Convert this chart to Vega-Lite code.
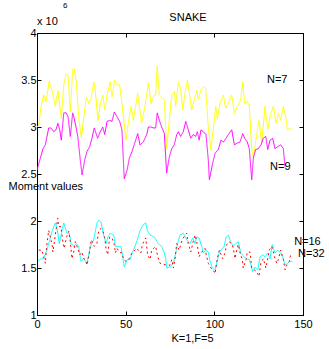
{
  "$schema": "https://vega.github.io/schema/vega-lite/v6.json",
  "width": 266,
  "height": 282,
  "autosize": "none",
  "padding": {"left": 37, "top": 33, "right": 26, "bottom": 34},
  "background": "white",
  "config": {
    "font": "Liberation Sans",
    "view": {"stroke": "black", "strokeWidth": 1},
    "axis": {"grid": false, "domainColor": "black", "tickColor": "black", "labelColor": "black", "titleColor": "black", "labelFont": "Liberation Sans", "titleFont": "Liberation Sans", "labelFontSize": 11, "titleFontSize": 11, "titleFontWeight": "normal"}
  },
  "datasets": {
    "lines": [
      {"s":"N=7","k":0,"v":3.0},{"s":"N=7","k":1.0,"v":3.02},{"s":"N=7","k":2.3,"v":3.22},{"s":"N=7","k":3.8,"v":3.34},{"s":"N=7","k":5.1,"v":3.27},{"s":"N=7","k":6.9,"v":3.49},{"s":"N=7","k":8.5,"v":3.39},{"s":"N=7","k":10.3,"v":3.22},{"s":"N=7","k":11.8,"v":3.39},{"s":"N=7","k":13.7,"v":3.09},{"s":"N=7","k":15.1,"v":3.45},{"s":"N=7","k":16.5,"v":3.57},{"s":"N=7","k":17.5,"v":3.55},{"s":"N=7","k":18.8,"v":3.16},{"s":"N=7","k":20.1,"v":3.61},{"s":"N=7","k":21.0,"v":3.62},{"s":"N=7","k":22.2,"v":3.47},{"s":"N=7","k":23.5,"v":3.11},{"s":"N=7","k":25.0,"v":2.88},{"s":"N=7","k":26.3,"v":3.09},{"s":"N=7","k":27.8,"v":3.32},{"s":"N=7","k":29.2,"v":3.25},{"s":"N=7","k":30.5,"v":3.31},{"s":"N=7","k":32.0,"v":3.48},{"s":"N=7","k":32.9,"v":3.38},{"s":"N=7","k":34.4,"v":3.07},{"s":"N=7","k":35.7,"v":3.25},{"s":"N=7","k":37.1,"v":3.34},{"s":"N=7","k":38.2,"v":3.18},{"s":"N=7","k":39.5,"v":3.34},{"s":"N=7","k":41.3,"v":3.48},{"s":"N=7","k":42.3,"v":3.32},{"s":"N=7","k":43.8,"v":3.5},{"s":"N=7","k":45.1,"v":3.45},{"s":"N=7","k":46.6,"v":3.45},{"s":"N=7","k":48.5,"v":3.15},{"s":"N=7","k":50.2,"v":2.86},{"s":"N=7","k":51.5,"v":3.04},{"s":"N=7","k":53.0,"v":3.22},{"s":"N=7","k":54.3,"v":3.07},{"s":"N=7","k":56.8,"v":3.36},{"s":"N=7","k":59.0,"v":3.04},{"s":"N=7","k":60.9,"v":3.22},{"s":"N=7","k":62.8,"v":3.47},{"s":"N=7","k":64.3,"v":3.25},{"s":"N=7","k":66.0,"v":3.34},{"s":"N=7","k":66.9,"v":3.34},{"s":"N=7","k":67.8,"v":3.65},{"s":"N=7","k":69.0,"v":3.34},{"s":"N=7","k":70.3,"v":3.32},{"s":"N=7","k":71.8,"v":3.29},{"s":"N=7","k":73.1,"v":2.77},{"s":"N=7","k":74.6,"v":3.07},{"s":"N=7","k":76.0,"v":3.34},{"s":"N=7","k":77.4,"v":3.38},{"s":"N=7","k":78.2,"v":3.22},{"s":"N=7","k":79.7,"v":3.48},{"s":"N=7","k":81.0,"v":3.41},{"s":"N=7","k":82.2,"v":3.18},{"s":"N=7","k":83.5,"v":3.36},{"s":"N=7","k":84.8,"v":3.5},{"s":"N=7","k":86.3,"v":3.31},{"s":"N=7","k":87.2,"v":3.18},{"s":"N=7","k":88.7,"v":3.29},{"s":"N=7","k":90.1,"v":3.39},{"s":"N=7","k":91.0,"v":3.29},{"s":"N=7","k":92.3,"v":3.39},{"s":"N=7","k":93.8,"v":3.43},{"s":"N=7","k":95.1,"v":3.41},{"s":"N=7","k":96.6,"v":3.0},{"s":"N=7","k":98.0,"v":2.76},{"s":"N=7","k":99.4,"v":2.97},{"s":"N=7","k":100.8,"v":3.22},{"s":"N=7","k":101.7,"v":3.09},{"s":"N=7","k":103.2,"v":3.25},{"s":"N=7","k":105.1,"v":3.34},{"s":"N=7","k":106.4,"v":3.2},{"s":"N=7","k":107.9,"v":3.25},{"s":"N=7","k":109.8,"v":3.34},{"s":"N=7","k":111.3,"v":3.15},{"s":"N=7","k":113.0,"v":3.22},{"s":"N=7","k":114.9,"v":3.29},{"s":"N=7","k":116.0,"v":3.48},{"s":"N=7","k":117.1,"v":3.25},{"s":"N=7","k":118.6,"v":3.27},{"s":"N=7","k":119.7,"v":3.23},{"s":"N=7","k":121.1,"v":2.76},{"s":"N=7","k":122.0,"v":2.67},{"s":"N=7","k":123.9,"v":2.92},{"s":"N=7","k":125.2,"v":3.07},{"s":"N=7","k":126.7,"v":2.83},{"s":"N=7","k":128.6,"v":3.22},{"s":"N=7","k":130.1,"v":2.97},{"s":"N=7","k":131.4,"v":3.11},{"s":"N=7","k":133.3,"v":3.22},{"s":"N=7","k":134.8,"v":3.04},{"s":"N=7","k":136.1,"v":3.15},{"s":"N=7","k":137.4,"v":3.07},{"s":"N=7","k":138.9,"v":3.22},{"s":"N=7","k":140.4,"v":3.09},{"s":"N=7","k":141.2,"v":2.97},{"s":"N=7","k":142.7,"v":2.99},{"s":"N=7","k":144.0,"v":2.97},
      {"s":"N=9","k":0,"v":2.54},{"s":"N=9","k":1.9,"v":2.67},{"s":"N=9","k":3.4,"v":2.77},{"s":"N=9","k":4.7,"v":2.81},{"s":"N=9","k":6.6,"v":2.99},{"s":"N=9","k":7.9,"v":2.99},{"s":"N=9","k":9.4,"v":2.95},{"s":"N=9","k":10.7,"v":2.97},{"s":"N=9","k":11.8,"v":3.04},{"s":"N=9","k":12.8,"v":2.97},{"s":"N=9","k":13.7,"v":2.86},{"s":"N=9","k":15.1,"v":3.15},{"s":"N=9","k":16.5,"v":3.15},{"s":"N=9","k":17.5,"v":3.11},{"s":"N=9","k":18.8,"v":2.9},{"s":"N=9","k":20.1,"v":3.15},{"s":"N=9","k":21.0,"v":3.09},{"s":"N=9","k":22.0,"v":3.0},{"s":"N=9","k":23.0,"v":2.9},{"s":"N=9","k":24.4,"v":2.65},{"s":"N=9","k":25.4,"v":2.49},{"s":"N=9","k":26.9,"v":2.65},{"s":"N=9","k":28.2,"v":2.74},{"s":"N=9","k":29.7,"v":2.79},{"s":"N=9","k":31.0,"v":2.88},{"s":"N=9","k":32.3,"v":2.99},{"s":"N=9","k":34.2,"v":2.88},{"s":"N=9","k":35.7,"v":2.95},{"s":"N=9","k":37.1,"v":3.0},{"s":"N=9","k":38.2,"v":2.92},{"s":"N=9","k":39.5,"v":3.06},{"s":"N=9","k":41.0,"v":3.07},{"s":"N=9","k":42.3,"v":3.06},{"s":"N=9","k":43.6,"v":3.16},{"s":"N=9","k":45.1,"v":3.11},{"s":"N=9","k":46.6,"v":3.06},{"s":"N=9","k":47.9,"v":2.97},{"s":"N=9","k":49.2,"v":2.45},{"s":"N=9","k":50.8,"v":2.54},{"s":"N=9","k":52.1,"v":2.67},{"s":"N=9","k":53.6,"v":2.74},{"s":"N=9","k":55.3,"v":2.84},{"s":"N=9","k":56.8,"v":2.93},{"s":"N=9","k":58.1,"v":2.81},{"s":"N=9","k":59.9,"v":2.84},{"s":"N=9","k":61.9,"v":2.92},{"s":"N=9","k":62.8,"v":3.0},{"s":"N=9","k":64.3,"v":3.0},{"s":"N=9","k":65.6,"v":2.99},{"s":"N=9","k":66.9,"v":2.99},{"s":"N=9","k":67.8,"v":3.15},{"s":"N=9","k":69.0,"v":3.07},{"s":"N=9","k":70.3,"v":3.0},{"s":"N=9","k":71.8,"v":2.93},{"s":"N=9","k":73.1,"v":2.51},{"s":"N=9","k":74.6,"v":2.68},{"s":"N=9","k":76.0,"v":2.77},{"s":"N=9","k":77.4,"v":2.81},{"s":"N=9","k":78.8,"v":2.92},{"s":"N=9","k":79.7,"v":2.95},{"s":"N=9","k":81.0,"v":2.9},{"s":"N=9","k":82.5,"v":2.95},{"s":"N=9","k":83.9,"v":3.06},{"s":"N=9","k":85.3,"v":2.97},{"s":"N=9","k":86.7,"v":2.88},{"s":"N=9","k":88.1,"v":2.92},{"s":"N=9","k":89.5,"v":2.9},{"s":"N=9","k":90.4,"v":2.95},{"s":"N=9","k":91.4,"v":2.86},{"s":"N=9","k":92.5,"v":2.97},{"s":"N=9","k":93.8,"v":2.95},{"s":"N=9","k":95.3,"v":2.92},{"s":"N=9","k":96.6,"v":2.65},{"s":"N=9","k":97.2,"v":2.44},{"s":"N=9","k":98.9,"v":2.6},{"s":"N=9","k":100.4,"v":2.72},{"s":"N=9","k":102.2,"v":2.76},{"s":"N=9","k":103.8,"v":2.86},{"s":"N=9","k":105.1,"v":2.84},{"s":"N=9","k":106.6,"v":2.88},{"s":"N=9","k":108.3,"v":2.93},{"s":"N=9","k":109.8,"v":2.97},{"s":"N=9","k":111.3,"v":2.81},{"s":"N=9","k":113.0,"v":2.83},{"s":"N=9","k":114.5,"v":2.84},{"s":"N=9","k":116.0,"v":2.93},{"s":"N=9","k":117.1,"v":2.88},{"s":"N=9","k":118.6,"v":2.84},{"s":"N=9","k":119.7,"v":2.77},{"s":"N=9","k":121.1,"v":2.44},{"s":"N=9","k":122.0,"v":2.67},{"s":"N=9","k":123.3,"v":2.76},{"s":"N=9","k":124.8,"v":2.77},{"s":"N=9","k":126.3,"v":2.81},{"s":"N=9","k":127.6,"v":2.88},{"s":"N=9","k":129.0,"v":2.9},{"s":"N=9","k":130.1,"v":2.76},{"s":"N=9","k":131.4,"v":2.86},{"s":"N=9","k":132.9,"v":2.88},{"s":"N=9","k":134.2,"v":2.77},{"s":"N=9","k":135.7,"v":2.79},{"s":"N=9","k":137.4,"v":2.81},{"s":"N=9","k":138.9,"v":2.77},{"s":"N=9","k":139.9,"v":2.57},
      {"s":"N=16","k":0.6,"v":1.57},{"s":"N=16","k":1.5,"v":1.59},{"s":"N=16","k":2.8,"v":1.6},{"s":"N=16","k":4.1,"v":1.62},{"s":"N=16","k":5.6,"v":1.69},{"s":"N=16","k":7.2,"v":1.8},{"s":"N=16","k":8.5,"v":1.89},{"s":"N=16","k":10.3,"v":1.98},{"s":"N=16","k":11.3,"v":1.92},{"s":"N=16","k":12.6,"v":1.76},{"s":"N=16","k":14.1,"v":1.9},{"s":"N=16","k":15.1,"v":1.98},{"s":"N=16","k":16.9,"v":1.87},{"s":"N=16","k":18.2,"v":1.87},{"s":"N=16","k":19.2,"v":1.76},{"s":"N=16","k":20.7,"v":1.73},{"s":"N=16","k":22.2,"v":1.76},{"s":"N=16","k":23.5,"v":1.73},{"s":"N=16","k":24.8,"v":1.57},{"s":"N=16","k":26.3,"v":1.6},{"s":"N=16","k":28.2,"v":1.55},{"s":"N=16","k":30.1,"v":1.73},{"s":"N=16","k":32.0,"v":1.8},{"s":"N=16","k":33.8,"v":1.98},{"s":"N=16","k":34.8,"v":2.01},{"s":"N=16","k":36.1,"v":1.99},{"s":"N=16","k":37.6,"v":1.85},{"s":"N=16","k":38.9,"v":1.76},{"s":"N=16","k":40.0,"v":1.83},{"s":"N=16","k":41.3,"v":1.87},{"s":"N=16","k":43.3,"v":1.85},{"s":"N=16","k":44.2,"v":1.73},{"s":"N=16","k":47.4,"v":1.73},{"s":"N=16","k":49.2,"v":1.51},{"s":"N=16","k":50.8,"v":1.59},{"s":"N=16","k":52.6,"v":1.59},{"s":"N=16","k":53.6,"v":1.66},{"s":"N=16","k":55.3,"v":1.73},{"s":"N=16","k":57.1,"v":1.83},{"s":"N=16","k":58.1,"v":1.9},{"s":"N=16","k":59.9,"v":1.96},{"s":"N=16","k":61.3,"v":1.98},{"s":"N=16","k":62.2,"v":1.9},{"s":"N=16","k":63.7,"v":1.85},{"s":"N=16","k":66.1,"v":1.83},{"s":"N=16","k":68.4,"v":1.76},{"s":"N=16","k":70.3,"v":1.73},{"s":"N=16","k":71.8,"v":1.66},{"s":"N=16","k":72.6,"v":1.6},{"s":"N=16","k":73.1,"v":1.5},{"s":"N=16","k":75.0,"v":1.51},{"s":"N=16","k":76.9,"v":1.55},{"s":"N=16","k":77.8,"v":1.62},{"s":"N=16","k":79.3,"v":1.76},{"s":"N=16","k":80.6,"v":1.85},{"s":"N=16","k":82.5,"v":1.87},{"s":"N=16","k":84.4,"v":1.8},{"s":"N=16","k":86.3,"v":1.76},{"s":"N=16","k":87.8,"v":1.82},{"s":"N=16","k":89.1,"v":1.76},{"s":"N=16","k":90.1,"v":1.83},{"s":"N=16","k":91.4,"v":1.82},{"s":"N=16","k":92.9,"v":1.73},{"s":"N=16","k":93.8,"v":1.66},{"s":"N=16","k":95.1,"v":1.69},{"s":"N=16","k":96.6,"v":1.67},{"s":"N=16","k":97.6,"v":1.57},{"s":"N=16","k":98.9,"v":1.5},{"s":"N=16","k":100.4,"v":1.48},{"s":"N=16","k":101.3,"v":1.55},{"s":"N=16","k":102.8,"v":1.67},{"s":"N=16","k":105.5,"v":1.73},{"s":"N=16","k":106.6,"v":1.83},{"s":"N=16","k":107.9,"v":1.85},{"s":"N=16","k":109.2,"v":1.78},{"s":"N=16","k":110.7,"v":1.73},{"s":"N=16","k":112.2,"v":1.76},{"s":"N=16","k":113.5,"v":1.78},{"s":"N=16","k":114.9,"v":1.66},{"s":"N=16","k":116.2,"v":1.63},{"s":"N=16","k":117.9,"v":1.6},{"s":"N=16","k":119.7,"v":1.59},{"s":"N=16","k":120.7,"v":1.53},{"s":"N=16","k":121.6,"v":1.46},{"s":"N=16","k":122.9,"v":1.51},{"s":"N=16","k":124.5,"v":1.48},{"s":"N=16","k":125.8,"v":1.62},{"s":"N=16","k":127.3,"v":1.64},{"s":"N=16","k":128.6,"v":1.62},{"s":"N=16","k":130.1,"v":1.66},{"s":"N=16","k":131.4,"v":1.6},{"s":"N=16","k":132.7,"v":1.75},{"s":"N=16","k":134.2,"v":1.66},{"s":"N=16","k":135.7,"v":1.69},{"s":"N=16","k":137.0,"v":1.67},{"s":"N=16","k":138.6,"v":1.62},{"s":"N=16","k":139.9,"v":1.53},{"s":"N=16","k":141.2,"v":1.55},{"s":"N=16","k":142.7,"v":1.57},{"s":"N=16","k":144.0,"v":1.57},
      {"s":"N=32","k":1.0,"v":1.69},{"s":"N=32","k":2.8,"v":1.69},{"s":"N=32","k":4.7,"v":1.55},{"s":"N=32","k":5.6,"v":1.76},{"s":"N=32","k":6.6,"v":1.9},{"s":"N=32","k":8.5,"v":1.75},{"s":"N=32","k":9.0,"v":1.67},{"s":"N=32","k":10.3,"v":1.85},{"s":"N=32","k":11.7,"v":2.03},{"s":"N=32","k":12.2,"v":1.94},{"s":"N=32","k":13.5,"v":1.94},{"s":"N=32","k":14.7,"v":1.76},{"s":"N=32","k":15.4,"v":1.71},{"s":"N=32","k":16.5,"v":1.82},{"s":"N=32","k":17.9,"v":1.89},{"s":"N=32","k":18.8,"v":1.78},{"s":"N=32","k":19.7,"v":1.6},{"s":"N=32","k":20.7,"v":1.67},{"s":"N=32","k":21.6,"v":1.78},{"s":"N=32","k":23.0,"v":1.71},{"s":"N=32","k":24.1,"v":1.64},{"s":"N=32","k":25.4,"v":1.67},{"s":"N=32","k":26.3,"v":1.6},{"s":"N=32","k":27.2,"v":1.59},{"s":"N=32","k":28.2,"v":1.53},{"s":"N=32","k":29.5,"v":1.66},{"s":"N=32","k":30.6,"v":1.8},{"s":"N=32","k":32.3,"v":1.73},{"s":"N=32","k":33.8,"v":1.76},{"s":"N=32","k":34.8,"v":1.9},{"s":"N=32","k":36.1,"v":1.92},{"s":"N=32","k":37.2,"v":1.89},{"s":"N=32","k":38.2,"v":1.82},{"s":"N=32","k":38.9,"v":1.71},{"s":"N=32","k":39.9,"v":1.64},{"s":"N=32","k":41.0,"v":1.83},{"s":"N=32","k":42.3,"v":1.82},{"s":"N=32","k":43.6,"v":1.75},{"s":"N=32","k":44.2,"v":1.66},{"s":"N=32","k":45.1,"v":1.71},{"s":"N=32","k":46.4,"v":1.67},{"s":"N=32","k":47.9,"v":1.66},{"s":"N=32","k":48.9,"v":1.59},{"s":"N=32","k":50.2,"v":1.57},{"s":"N=32","k":51.7,"v":1.59},{"s":"N=32","k":53.6,"v":1.66},{"s":"N=32","k":56.2,"v":1.71},{"s":"N=32","k":58.6,"v":1.66},{"s":"N=32","k":59.4,"v":1.75},{"s":"N=32","k":61.3,"v":1.82},{"s":"N=32","k":62.4,"v":1.64},{"s":"N=32","k":63.7,"v":1.59},{"s":"N=32","k":64.7,"v":1.69},{"s":"N=32","k":66.9,"v":1.73},{"s":"N=32","k":68.1,"v":1.62},{"s":"N=32","k":69.4,"v":1.55},{"s":"N=32","k":73.1,"v":1.53},{"s":"N=32","k":75.0,"v":1.53},{"s":"N=32","k":76.0,"v":1.59},{"s":"N=32","k":76.9,"v":1.5},{"s":"N=32","k":77.8,"v":1.59},{"s":"N=32","k":78.8,"v":1.76},{"s":"N=32","k":80.1,"v":1.69},{"s":"N=32","k":81.9,"v":1.8},{"s":"N=32","k":83.5,"v":1.85},{"s":"N=32","k":84.4,"v":1.87},{"s":"N=32","k":85.3,"v":1.76},{"s":"N=32","k":86.7,"v":1.67},{"s":"N=32","k":88.1,"v":1.78},{"s":"N=32","k":89.1,"v":1.85},{"s":"N=32","k":90.1,"v":1.78},{"s":"N=32","k":91.4,"v":1.62},{"s":"N=32","k":92.5,"v":1.66},{"s":"N=32","k":93.8,"v":1.69},{"s":"N=32","k":94.7,"v":1.71},{"s":"N=32","k":95.7,"v":1.62},{"s":"N=32","k":96.6,"v":1.55},{"s":"N=32","k":98.1,"v":1.5},{"s":"N=32","k":99.4,"v":1.48},{"s":"N=32","k":100.4,"v":1.44},{"s":"N=32","k":101.7,"v":1.6},{"s":"N=32","k":102.8,"v":1.69},{"s":"N=32","k":104.7,"v":1.6},{"s":"N=32","k":106.0,"v":1.66},{"s":"N=32","k":107.0,"v":1.75},{"s":"N=32","k":108.3,"v":1.78},{"s":"N=32","k":109.8,"v":1.76},{"s":"N=32","k":110.7,"v":1.71},{"s":"N=32","k":111.7,"v":1.6},{"s":"N=32","k":112.6,"v":1.69},{"s":"N=32","k":113.5,"v":1.75},{"s":"N=32","k":114.5,"v":1.66},{"s":"N=32","k":115.8,"v":1.59},{"s":"N=32","k":116.3,"v":1.5},{"s":"N=32","k":117.9,"v":1.59},{"s":"N=32","k":118.6,"v":1.67},{"s":"N=32","k":120.1,"v":1.67},{"s":"N=32","k":121.1,"v":1.5},{"s":"N=32","k":122.5,"v":1.48},{"s":"N=32","k":123.9,"v":1.46},{"s":"N=32","k":125.2,"v":1.41},{"s":"N=32","k":126.2,"v":1.55},{"s":"N=32","k":127.6,"v":1.6},{"s":"N=32","k":129.1,"v":1.5},{"s":"N=32","k":130.1,"v":1.6},{"s":"N=32","k":131.0,"v":1.69},{"s":"N=32","k":132.4,"v":1.73},{"s":"N=32","k":133.3,"v":1.67},{"s":"N=32","k":134.2,"v":1.6},{"s":"N=32","k":135.2,"v":1.55},{"s":"N=32","k":136.1,"v":1.59},{"s":"N=32","k":137.4,"v":1.69},{"s":"N=32","k":138.9,"v":1.59},{"s":"N=32","k":139.9,"v":1.48},{"s":"N=32","k":140.8,"v":1.53},{"s":"N=32","k":142.3,"v":1.57},{"s":"N=32","k":143.2,"v":1.66}
    ],
    "labels": [
      {"label":"N=7","k":129.7,"v":3.5},
      {"label":"N=9","k":131.4,"v":2.57},
      {"label":"N=16","k":145.0,"v":1.78},
      {"label":"N=32","k":147.2,"v":1.65}
    ]
  },
  "layer": [
    {
      "data": {"name": "lines"},
      "mark": {"type": "line", "strokeWidth": 1, "clip": true},
      "encoding": {
        "x": {"field": "k", "type": "quantitative", "scale": {"domain": [0, 150], "nice": false, "zero": false},
              "axis": {"orient": "bottom", "values": [0, 50, 100, 150], "tickSize": -4, "labelPadding": 7, "title": "K=1,F=5", "titleX": 155, "titleY": 23, "titleBaseline": "middle", "titleAnchor": null, "titleAlign": "center", "labelFlush": false}},
        "y": {"field": "v", "type": "quantitative", "scale": {"domain": [1, 4], "nice": false, "zero": false},
              "axis": {"orient": "left", "values": [1, 1.5, 2, 2.5, 3, 3.5, 4], "format": "~g", "tickSize": -4, "labelPadding": 5, "title": "Moment values", "titleAngle": 0, "titleAlign": "left", "titleBaseline": "middle", "titleX": -29, "titleY": 153, "labelFlush": false}},
        "color": {"field": "s", "type": "nominal", "scale": {"domain": ["N=7", "N=9", "N=16", "N=32"], "range": ["#ffff00", "#ff00ff", "#00ffff", "#ff0000"]}, "legend": null},
        "strokeDash": {"field": "s", "type": "nominal", "scale": {"domain": ["N=7", "N=9", "N=16", "N=32"], "range": [[1, 0], [1, 0], [1, 0], [2, 3]]}, "legend": null}
      }
    },
    {
      "data": {"name": "labels"},
      "mark": {"type": "text", "align": "left", "baseline": "middle", "fontSize": 11, "font": "Liberation Sans", "color": "black"},
      "encoding": {
        "x": {"field": "k", "type": "quantitative", "axis": {"orient": "top", "values": [0, 50, 100, 150], "labels": false, "tickSize": -4, "title": null, "domainColor": "black"}},
        "y": {"field": "v", "type": "quantitative", "axis": {"orient": "right", "values": [1, 1.5, 2, 2.5, 3, 3.5, 4], "labels": false, "tickSize": -4, "title": null, "domainColor": "black"}},
        "text": {"field": "label"}
      }
    },
    {
      "data": {"values": [{"t": "x 10", "k": 0, "v": 4}]},
      "mark": {"type": "text", "align": "left", "baseline": "middle", "fontSize": 11, "font": "Liberation Sans", "color": "black", "dy": -11},
      "encoding": {
        "x": {"field": "k", "type": "quantitative", "axis": null},
        "y": {"field": "v", "type": "quantitative", "axis": null},
        "text": {"field": "t"}
      }
    },
    {
      "data": {"values": [{"t": "6", "k": 0, "v": 4}]},
      "mark": {"type": "text", "align": "left", "baseline": "middle", "fontSize": 8, "font": "Liberation Sans", "color": "black", "dx": 26, "dy": -27},
      "encoding": {
        "x": {"field": "k", "type": "quantitative", "axis": null},
        "y": {"field": "v", "type": "quantitative", "axis": null},
        "text": {"field": "t"}
      }
    },
    {
      "data": {"values": [{"t": "SNAKE", "k": 75, "v": 4}]},
      "mark": {"type": "text", "align": "center", "baseline": "middle", "fontSize": 11, "font": "Liberation Sans", "color": "black", "dx": 18, "dy": -15},
      "encoding": {
        "x": {"field": "k", "type": "quantitative", "axis": null},
        "y": {"field": "v", "type": "quantitative", "axis": null},
        "text": {"field": "t"}
      }
    }
  ],
  "resolve": {"axis": {"x": "independent", "y": "independent"}}
}
